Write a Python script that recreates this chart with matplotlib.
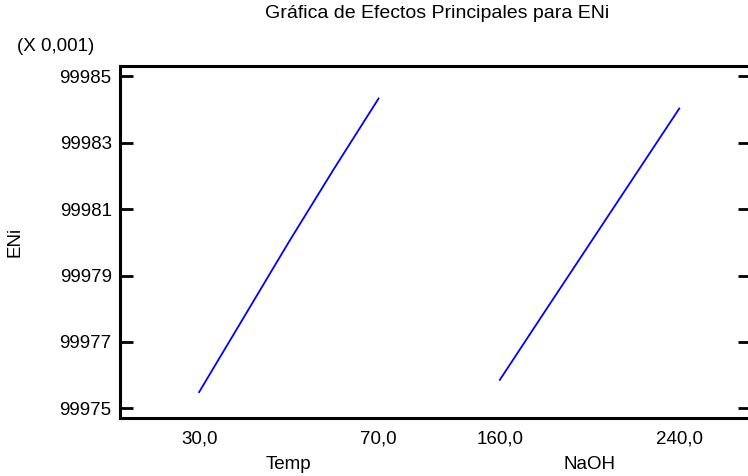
import matplotlib.pyplot as plt

plt.rcParams['font.family'] = ['Liberation Sans', 'DejaVu Sans']

# Main effects for ENi (values in units of 0.001)
factors = ["Temp", "NaOH"]
temp_levels = [30, 40, 50, 60, 70]
temp_effect = [99975.49, 99977.75, 99980.01, 99982.20, 99984.33]
naoh_levels = [160, 180, 200, 220, 240]
naoh_effect = [99975.86, 99977.91, 99979.95, 99981.99, 99984.03]
tick_labels = [["30,0", "70,0"], ["160,0", "240,0"]]
y_ticks = [99975, 99977, 99979, 99981, 99983, 99985]

fs = 13.5
# each factor gets its own slot along the shared x axis
slot = 1.676

def to_pos(levels, i):
    lo, hi = levels[0], levels[-1]
    return [i * slot + (v - lo) / (hi - lo) for v in levels]

fig = plt.figure(figsize=(7.48, 4.76), dpi=100)
ax = fig.add_axes([120 / 748, (476 - 418) / 476, 630 / 748, 352 / 476])

series = [(temp_levels, temp_effect), (naoh_levels, naoh_effect)]
xticks, xlabels = [], []
for i, (lv, eff) in enumerate(series):
    xs = to_pos(lv, i)
    ax.plot(xs, eff, color="#0000ff", lw=1.3)
    xticks += [xs[0], xs[-1]]
    xlabels += tick_labels[i]
    ax.text((xs[0] + xs[-1]) / 2, -0.1335, factors[i], transform=ax.get_xaxis_transform(),
            ha="center", va="center", fontsize=fs)

ax.set_xlim(-0.441, 3.07)
ax.set_ylim(99974.71, 99985.31)
ax.set_xticks(xticks)
ax.set_xticklabels(xlabels, fontsize=fs)
ax.tick_params(axis="x", length=0, pad=9)
ax.set_yticks(y_ticks)
ax.set_yticklabels([str(v) for v in y_ticks], fontsize=fs)
ax.tick_params(axis="y", direction="in", length=9, width=2, right=True, pad=6)

for s in ax.spines.values():
    s.set_linewidth(2.2)

ax.set_ylabel("ENi", fontsize=fs, va="center")
ax.yaxis.set_label_coords(-0.167, 0.5)
ax.text(-0.163, 1.055, "(X 0,001)", transform=ax.transAxes, ha="left", va="center", fontsize=fs)
fig.text(437 / 748, 1 - 13 / 476, "Gráfica de Efectos Principales para ENi",
         ha="center", va="center", fontsize=14)

fig.savefig("out.png", dpi=100)
